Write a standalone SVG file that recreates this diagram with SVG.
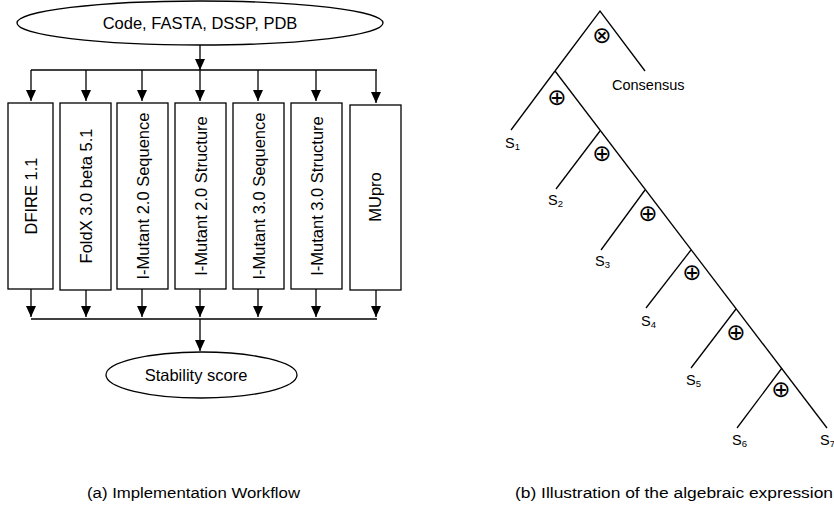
<svg xmlns="http://www.w3.org/2000/svg" width="834" height="505" viewBox="0 0 834 505">
<style>
  .ln{stroke:#000;stroke-width:1.3;fill:none}
  .bx{stroke:#000;stroke-width:1.3;fill:#fff}
  .t{font-family:"Liberation Sans",Arial,sans-serif;fill:#000}
  .big{font-size:16.5px}
  .lab{font-size:14.5px}
  .sym{font-family:"DejaVu Sans",sans-serif;font-size:23px;fill:#000}
  .arr{stroke:#000;stroke-width:1.3;fill:none;marker-end:url(#ah)}
</style>
<defs>
  <marker id="ah" markerUnits="userSpaceOnUse" viewBox="0 0 11 10" markerWidth="11" markerHeight="10" refX="11" refY="5" orient="auto">
    <path d="M0,0 L11,5 L0,10 z" fill="#000"/>
  </marker>
</defs>
<rect width="834" height="505" fill="#fff"/>

<!-- Workflow (a) -->
<g id="input">
  <ellipse class="bx" cx="200" cy="23" rx="183" ry="22"/>
  <text class="t big" x="200" y="29" text-anchor="middle">Code, FASTA, DSSP, PDB</text>
</g>
<g id="dfire">
  <rect class="bx" x="8" y="103" width="45" height="186"/>
  <text class="t big" transform="translate(36.5,196) rotate(-90)" text-anchor="middle">DFIRE 1.1</text>
</g>
<g id="foldx">
  <rect class="bx" x="60" y="103" width="51" height="187"/>
  <text class="t big" transform="translate(91.5,196) rotate(-90)" text-anchor="middle">FoldX 3.0 beta 5.1</text>
</g>
<g id="imut20seq">
  <rect class="bx" x="117" y="103" width="51" height="186"/>
  <text class="t big" transform="translate(148.5,196) rotate(-90)" text-anchor="middle">I-Mutant 2.0 Sequence</text>
</g>
<g id="imut20str">
  <rect class="bx" x="175" y="103" width="51" height="186"/>
  <text class="t big" transform="translate(206.5,196) rotate(-90)" text-anchor="middle">I-Mutant 2.0 Structure</text>
</g>
<g id="imut30seq">
  <rect class="bx" x="233" y="103" width="51" height="186"/>
  <text class="t big" transform="translate(264.5,196) rotate(-90)" text-anchor="middle">I-Mutant 3.0 Sequence</text>
</g>
<g id="imut30str">
  <rect class="bx" x="291" y="103" width="51" height="186"/>
  <text class="t big" transform="translate(322.5,196) rotate(-90)" text-anchor="middle">I-Mutant 3.0 Structure</text>
</g>
<g id="mupro">
  <rect class="bx" x="350" y="105" width="51" height="185"/>
  <text class="t big" transform="translate(380.5,197) rotate(-90)" text-anchor="middle">MUpro</text>
</g>
<g id="output">
  <ellipse class="bx" cx="201.5" cy="375" rx="95.5" ry="23"/>
  <text class="t big" x="196" y="381" text-anchor="middle">Stability score</text>
</g>

<g id="connectors">
  <line class="arr" x1="200" y1="45" x2="200" y2="70"/>
  <line class="ln" x1="31" y1="70" x2="377" y2="70"/>
  <line class="arr" x1="31" y1="70" x2="31" y2="101"/>
  <line class="arr" x1="86" y1="70" x2="86" y2="101"/>
  <line class="arr" x1="142" y1="70" x2="142" y2="101"/>
  <line class="arr" x1="200" y1="70" x2="200" y2="101"/>
  <line class="arr" x1="258" y1="70" x2="258" y2="101"/>
  <line class="arr" x1="316" y1="70" x2="316" y2="101"/>
  <line class="arr" x1="376" y1="70" x2="376" y2="103"/>

  <line class="arr" x1="31" y1="289" x2="31" y2="317"/>
  <line class="arr" x1="86" y1="290" x2="86" y2="317"/>
  <line class="arr" x1="142" y1="289" x2="142" y2="317"/>
  <line class="arr" x1="200" y1="289" x2="200" y2="317"/>
  <line class="arr" x1="258" y1="289" x2="258" y2="317"/>
  <line class="arr" x1="316" y1="289" x2="316" y2="317"/>
  <line class="arr" x1="376" y1="290" x2="376" y2="317"/>
  <line class="ln" x1="31" y1="319" x2="377" y2="319"/>
  <line class="arr" x1="200" y1="319" x2="200" y2="351"/>
</g>

<text class="t" x="87" y="498" font-size="15.5" textLength="213" lengthAdjust="spacingAndGlyphs">(a) Implementation Workflow</text>

<!-- Tree (b) -->
<g id="tree">
  <polyline class="ln" points="555,71 600,11 645,71"/>
  <line class="ln" x1="555" y1="71" x2="827" y2="428"/>
  <line class="ln" x1="555" y1="71" x2="511" y2="130"/>
  <line class="ln" x1="600" y1="131" x2="556" y2="189"/>
  <line class="ln" x1="645" y1="190" x2="601" y2="250"/>
  <line class="ln" x1="691" y1="250" x2="646" y2="308"/>
  <line class="ln" x1="736" y1="309" x2="691" y2="368"/>
  <line class="ln" x1="782" y1="368" x2="737" y2="428"/>
</g>
<g id="ops">
  <text class="sym" x="602" y="43" text-anchor="middle">⊗</text>
  <text class="sym" x="557" y="105" text-anchor="middle">⊕</text>
  <text class="sym" x="602" y="161" text-anchor="middle">⊕</text>
  <text class="sym" x="648" y="221" text-anchor="middle">⊕</text>
  <text class="sym" x="692" y="280" text-anchor="middle">⊕</text>
  <text class="sym" x="736" y="340" text-anchor="middle">⊕</text>
  <text class="sym" x="781" y="397" text-anchor="middle">⊕</text>
</g>
<g id="labels">
  <text class="t lab" x="612" y="90">Consensus</text>
  <text class="t lab" x="505" y="148">S<tspan font-size="9.5" dy="2">1</tspan></text>
  <text class="t lab" x="548" y="205">S<tspan font-size="9.5" dy="2">2</tspan></text>
  <text class="t lab" x="595" y="266">S<tspan font-size="9.5" dy="2">3</tspan></text>
  <text class="t lab" x="641" y="326">S<tspan font-size="9.5" dy="2">4</tspan></text>
  <text class="t lab" x="686" y="385">S<tspan font-size="9.5" dy="2">5</tspan></text>
  <text class="t lab" x="732" y="445">S<tspan font-size="9.5" dy="2">6</tspan></text>
  <text class="t lab" x="820" y="445">S<tspan font-size="9.5" dy="2">7</tspan></text>
</g>

<text class="t" x="515" y="498" font-size="15.5" textLength="318" lengthAdjust="spacingAndGlyphs">(b) Illustration of the algebraic expression</text>
</svg>
